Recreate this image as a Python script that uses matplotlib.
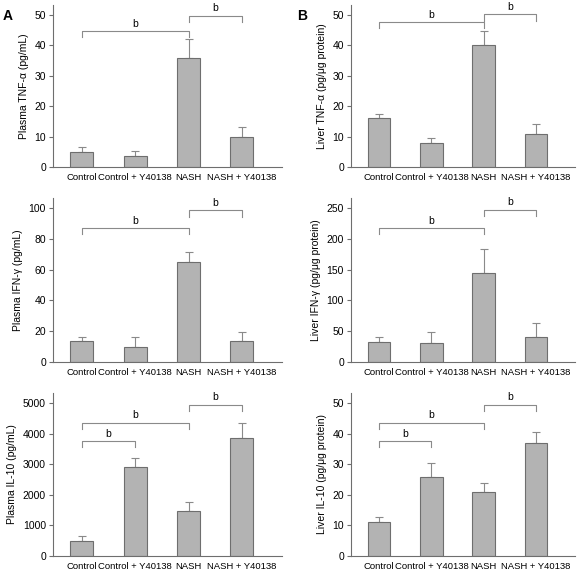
import matplotlib.pyplot as plt

plt.rcParams['font.family'] = ['Liberation Sans', 'DejaVu Sans']

groups = ["Control", "Control + Y40138", "NASH", "NASH + Y40138"]

plasma_tnf = [5.0, 3.5, 35.7, 9.8]
plasma_tnf_err = [1.7, 1.6, 6.3, 3.2]
liver_tnf = [16.0, 7.8, 40.0, 11.0]
liver_tnf_err = [1.6, 1.8, 4.8, 3.3]

plasma_ifn = [13.5, 10.0, 65.0, 13.5]
plasma_ifn_err = [3.0, 6.5, 6.5, 6.3]
liver_ifn = [33.0, 31.0, 144.0, 40.0]
liver_ifn_err = [8.0, 17.0, 39.0, 24.0]

plasma_il10 = [500, 2900, 1460, 3870]
plasma_il10_err = [160, 320, 320, 480]
liver_il10 = [11.0, 25.7, 20.8, 36.8]
liver_il10_err = [1.8, 4.8, 3.2, 3.6]

# brackets: (start group, end group, bar height, tick bottom)
tnf_plasma_br = [(0, 2, 44.7, 42.8), (2, 3, 49.8, 47.6)]
tnf_liver_br = [(0, 2, 47.6, 45.6), (2, 3, 50.2, 48.1)]
ifn_plasma_br = [(0, 2, 86.8, 82.9), (2, 3, 98.7, 94.4)]
ifn_liver_br = [(0, 2, 217, 207.6), (2, 3, 247, 236)]
il10_plasma_br = [(0, 1, 3758, 3562), (0, 2, 4359, 4140), (2, 3, 4948, 4739)]
il10_liver_br = [(0, 1, 37.6, 35.6), (0, 2, 43.6, 41.4), (2, 3, 49.5, 47.4)]

W, H = 584, 574
fig = plt.figure(figsize=(W / 100, H / 100), dpi=100)

rows = [(5, 167), (198, 362), (393, 556)]
cols = [(53, 282), (351, 575)]

panels = [
    (0, 0, plasma_tnf, plasma_tnf_err, tnf_plasma_br, 53.3, [0, 10, 20, 30, 40, 50],
     "Plasma TNF-\u03b1 (pg/mL)"),
    (0, 1, liver_tnf, liver_tnf_err, tnf_liver_br, 53.3, [0, 10, 20, 30, 40, 50],
     "Liver TNF-\u03b1 (pg/\u03bcg protein)"),
    (1, 0, plasma_ifn, plasma_ifn_err, ifn_plasma_br, 106.5, [0, 20, 40, 60, 80, 100],
     "Plasma IFN-\u03b3 (pg/mL)"),
    (1, 1, liver_ifn, liver_ifn_err, ifn_liver_br, 266, [0, 50, 100, 150, 200, 250],
     "Liver IFN-\u03b3 (pg/\u03bcg protein)"),
    (2, 0, plasma_il10, plasma_il10_err, il10_plasma_br, 5330, [0, 1000, 2000, 3000, 4000, 5000],
     "Plasma IL-10 (pg/mL)"),
    (2, 1, liver_il10, liver_il10_err, il10_liver_br, 53.3, [0, 10, 20, 30, 40, 50],
     "Liver IL-10 (pg/\u03bcg protein)"),
]

x = list(range(len(groups)))
for r, c, vals, errs, brackets, ytop, yticks, ylabel in panels:
    top, bot = rows[r]
    left, right = cols[c]
    ax = fig.add_axes([left / W, 1 - bot / H, (right - left) / W, (bot - top) / H])
    ax.bar(x, vals, width=0.43, color="#b3b3b3", edgecolor="#6e6e6e", linewidth=0.8, zorder=2)
    ax.errorbar(x, vals, yerr=[[0] * 4, errs], fmt="none", ecolor="#8a8a8a",
                elinewidth=0.8, capsize=3, capthick=0.8, zorder=1)
    ax.set_xlim(-0.54, 3.75)
    ax.set_ylim(0, ytop)
    ax.set_yticks(yticks)
    ax.set_xticks(x)
    ax.set_xticklabels(groups, fontsize=6.8,
                       family=['Liberation Sans Narrow', 'Liberation Sans'])
    ax.tick_params(axis="x", length=0, pad=4)
    ax.tick_params(axis="y", labelsize=7.5, length=3, color="#6e6e6e", pad=2)
    ax.set_ylabel(ylabel, fontsize=7.5, labelpad=4)
    for s in ["top", "right"]:
        ax.spines[s].set_visible(False)
    for s in ["left", "bottom"]:
        ax.spines[s].set_color("#6e6e6e")
        ax.spines[s].set_linewidth(0.8)
    for a, b, h, lo in brackets:
        ax.plot([a, a, b, b], [lo, h, h, lo], color="#8a8a8a", lw=0.8, clip_on=False)
        ax.text((a + b) / 2, h + ytop * 0.015, "b", ha="center", va="bottom", fontsize=7.5)

fig.text(3 / W, 1 - 9 / H, "A", fontsize=10, fontweight="bold", va="top")
fig.text(297 / W, 1 - 9 / H, "B", fontsize=10, fontweight="bold", va="top")

fig.savefig("out.png", dpi=100)
